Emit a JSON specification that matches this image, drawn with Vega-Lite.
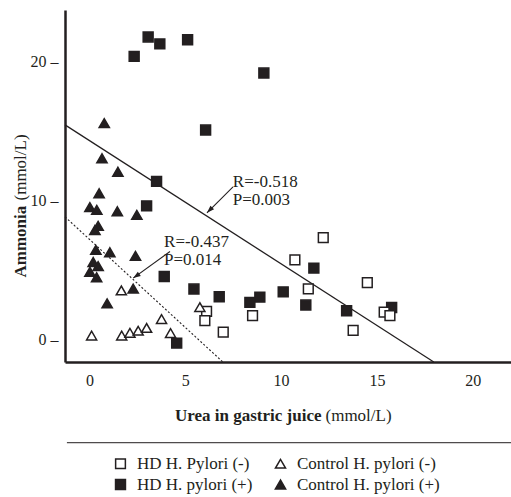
{
  "$schema": "https://vega.github.io/schema/vega-lite/v6.json",
  "width": 446,
  "height": 352,
  "autosize": {"type": "none"},
  "padding": {"left": 65, "top": 10, "right": 0, "bottom": 135},
  "background": "white",
  "config": {
    "view": {"stroke": null},
    "font": "Liberation Serif",
    "axis": {
      "grid": false,
      "ticks": false,
      "tickSize": 0,
      "domainColor": "#231f20",
      "domainWidth": 2.5,
      "labelColor": "#231f20",
      "titleColor": "#231f20",
      "labelFont": "Liberation Serif",
      "titleFont": "Liberation Serif",
      "labelFontSize": 16,
      "titleFontSize": 17
    },
    "legend": {
      "labelFont": "Liberation Serif",
      "labelFontSize": 17,
      "labelColor": "#231f20"
    }
  },
  "datasets": {
    "pts": [
      {"group": "HD H. pylori (+)", "urea": 2.33, "ammonia": 20.4},
      {"group": "HD H. pylori (+)", "urea": 3.06, "ammonia": 21.8},
      {"group": "HD H. pylori (+)", "urea": 3.67, "ammonia": 21.3},
      {"group": "HD H. pylori (+)", "urea": 5.12, "ammonia": 21.6},
      {"group": "HD H. pylori (+)", "urea": 6.06, "ammonia": 15.1},
      {"group": "HD H. pylori (+)", "urea": 9.1, "ammonia": 19.2},
      {"group": "HD H. pylori (+)", "urea": 3.5, "ammonia": 11.4},
      {"group": "HD H. pylori (+)", "urea": 2.98, "ammonia": 9.64},
      {"group": "HD H. pylori (+)", "urea": 3.9, "ammonia": 4.56},
      {"group": "HD H. pylori (+)", "urea": 5.45, "ammonia": 3.65},
      {"group": "HD H. pylori (+)", "urea": 6.77, "ammonia": 3.1},
      {"group": "HD H. pylori (+)", "urea": 4.55, "ammonia": -0.24},
      {"group": "HD H. pylori (+)", "urea": 8.37, "ammonia": 2.69},
      {"group": "HD H. pylori (+)", "urea": 8.89, "ammonia": 3.07},
      {"group": "HD H. pylori (+)", "urea": 10.11, "ammonia": 3.45},
      {"group": "HD H. pylori (+)", "urea": 11.71, "ammonia": 5.16},
      {"group": "HD H. pylori (+)", "urea": 11.29, "ammonia": 2.5},
      {"group": "HD H. pylori (+)", "urea": 13.42, "ammonia": 2.09},
      {"group": "HD H. pylori (+)", "urea": 15.77, "ammonia": 2.32},
      {"group": "HD H. Pylori (-)", "urea": 12.2, "ammonia": 7.36},
      {"group": "HD H. Pylori (-)", "urea": 10.72, "ammonia": 5.76},
      {"group": "HD H. Pylori (-)", "urea": 11.42, "ammonia": 3.67},
      {"group": "HD H. Pylori (-)", "urea": 14.5, "ammonia": 4.12},
      {"group": "HD H. Pylori (-)", "urea": 13.76, "ammonia": 0.67},
      {"group": "HD H. Pylori (-)", "urea": 15.38, "ammonia": 1.99},
      {"group": "HD H. Pylori (-)", "urea": 15.68, "ammonia": 1.73},
      {"group": "HD H. Pylori (-)", "urea": 8.51, "ammonia": 1.73},
      {"group": "HD H. Pylori (-)", "urea": 6.11, "ammonia": 2.04},
      {"group": "HD H. Pylori (-)", "urea": 6.02, "ammonia": 1.37},
      {"group": "HD H. Pylori (-)", "urea": 6.98, "ammonia": 0.55},
      {"group": "Control H. pylori (-)", "urea": 0.11, "ammonia": 0.3},
      {"group": "Control H. pylori (-)", "urea": 1.68, "ammonia": 0.3},
      {"group": "Control H. pylori (-)", "urea": 2.11, "ammonia": 0.5},
      {"group": "Control H. pylori (-)", "urea": 2.54, "ammonia": 0.65},
      {"group": "Control H. pylori (-)", "urea": 2.98, "ammonia": 0.85},
      {"group": "Control H. pylori (-)", "urea": 3.76, "ammonia": 1.49},
      {"group": "Control H. pylori (-)", "urea": 4.23, "ammonia": 0.48},
      {"group": "Control H. pylori (-)", "urea": 1.66, "ammonia": 3.55},
      {"group": "Control H. pylori (-)", "urea": 5.76, "ammonia": 2.35},
      {"group": "Control H. pylori (+)", "urea": 0.77, "ammonia": 15.6},
      {"group": "Control H. pylori (+)", "urea": 0.65, "ammonia": 13.07},
      {"group": "Control H. pylori (+)", "urea": 1.48, "ammonia": 12.1},
      {"group": "Control H. pylori (+)", "urea": 0.5, "ammonia": 10.55},
      {"group": "Control H. pylori (+)", "urea": 0.02, "ammonia": 9.55},
      {"group": "Control H. pylori (+)", "urea": 0.38, "ammonia": 9.35},
      {"group": "Control H. pylori (+)", "urea": 1.45, "ammonia": 9.25},
      {"group": "Control H. pylori (+)", "urea": 2.47, "ammonia": 8.99},
      {"group": "Control H. pylori (+)", "urea": 0.45, "ammonia": 8.2},
      {"group": "Control H. pylori (+)", "urea": 0.28, "ammonia": 7.9},
      {"group": "Control H. pylori (+)", "urea": 0.33, "ammonia": 6.47},
      {"group": "Control H. pylori (+)", "urea": 1.06, "ammonia": 6.3},
      {"group": "Control H. pylori (+)", "urea": 2.4, "ammonia": 6.04},
      {"group": "Control H. pylori (+)", "urea": 0.19, "ammonia": 5.6},
      {"group": "Control H. pylori (+)", "urea": 0.45, "ammonia": 5.3},
      {"group": "Control H. pylori (+)", "urea": 0.02, "ammonia": 4.9},
      {"group": "Control H. pylori (+)", "urea": 0.37, "ammonia": 4.5},
      {"group": "Control H. pylori (+)", "urea": 2.28, "ammonia": 3.68},
      {"group": "Control H. pylori (+)", "urea": 0.92, "ammonia": 2.62}
    ],
    "solid": [{"urea": -1.28, "ammonia": 15.47}, {"urea": 17.97, "ammonia": -1.6}],
    "dotted": [{"urea": -1.28, "ammonia": 8.85}, {"urea": 6.96, "ammonia": -1.6}],
    "arrows": [
      {"x1": 7.49, "y1": 11.0, "x2": 6.13, "y2": 9.14},
      {"x1": 4.2, "y1": 6.35, "x2": 2.28, "y2": 4.44}
    ],
    "labels": [
      {"urea": 7.48, "ammonia": 11.37, "text": "R=-0.518"},
      {"urea": 7.48, "ammonia": 10.07, "text": "P=0.003"},
      {"urea": 3.89, "ammonia": 7.05, "text": "R=-0.437"},
      {"urea": 3.89, "ammonia": 5.76, "text": "P=0.014"}
    ]
  },
  "layer": [
    {
      "data": {"name": "solid"},
      "mark": {"type": "line", "color": "#231f20", "strokeWidth": 1.2},
      "encoding": {
        "x": {"field": "urea", "type": "quantitative", "axis": null},
        "y": {"field": "ammonia", "type": "quantitative", "axis": null}
      }
    },
    {
      "data": {"name": "dotted"},
      "mark": {"type": "line", "color": "#231f20", "strokeWidth": 1.1, "strokeDash": [2, 2]},
      "encoding": {
        "x": {"field": "urea", "type": "quantitative", "axis": null},
        "y": {"field": "ammonia", "type": "quantitative", "axis": null}
      }
    },
    {
      "data": {"name": "arrows"},
      "mark": {"type": "rule", "color": "#231f20", "strokeWidth": 1.1},
      "encoding": {
        "x": {"field": "x1", "type": "quantitative", "axis": null},
        "y": {"field": "y1", "type": "quantitative", "axis": null},
        "x2": {"field": "x2"},
        "y2": {"field": "y2"}
      }
    },
    {
      "data": {"name": "arrows"},
      "transform": [{"filter": "datum.x2 > 5"}],
      "mark": {"type": "point", "shape": "M0,0L-0.7,2L0.7,2Z", "size": 56, "filled": true, "color": "#231f20", "opacity": 1, "angle": 225},
      "encoding": {
        "x": {"field": "x2", "type": "quantitative", "axis": null},
        "y": {"field": "y2", "type": "quantitative", "axis": null}
      }
    },
    {
      "data": {"name": "arrows"},
      "transform": [{"filter": "datum.x2 < 5"}],
      "mark": {"type": "point", "shape": "M0,0L-0.7,2L0.7,2Z", "size": 56, "filled": true, "color": "#231f20", "opacity": 1, "angle": 235},
      "encoding": {
        "x": {"field": "x2", "type": "quantitative", "axis": null},
        "y": {"field": "y2", "type": "quantitative", "axis": null}
      }
    },
    {
      "data": {"name": "labels"},
      "mark": {"type": "text", "align": "left", "baseline": "middle", "font": "Liberation Serif", "fontSize": 17, "color": "#231f20"},
      "encoding": {
        "x": {"field": "urea", "type": "quantitative", "axis": null},
        "y": {"field": "ammonia", "type": "quantitative", "axis": null},
        "text": {"field": "text"}
      }
    },
    {
      "data": {"name": "pts"},
      "mark": {"type": "point", "stroke": "#231f20", "strokeWidth": 1.5, "opacity": 1},
      "encoding": {
        "x": {
          "field": "urea",
          "type": "quantitative",
          "scale": {"domain": [-1.28, 22.0], "nice": false, "zero": false},
          "axis": {
            "values": [0, 5, 10, 15, 20],
            "labelPadding": 10,
            "title": "Urea in gastric juice",
            "titleFontWeight": "bold",
            "titleAlign": "right",
            "titleAnchor": null,
            "titleX": 256,
            "titleY": 53,
            "titleBaseline": "middle"
          }
        },
        "y": {
          "field": "ammonia",
          "type": "quantitative",
          "scale": {"domain": [-1.6, 23.74], "nice": false, "zero": false},
          "axis": {
            "values": [0, 10, 20],
            "labelExpr": "datum.label + ' –'",
            "labelPadding": 7,
            "title": "Ammonia",
            "titleFontWeight": "bold",
            "titleAngle": -90,
            "titleAlign": "left",
            "titleAnchor": null,
            "titleX": -40,
            "titleY": 267,
            "titleBaseline": "alphabetic"
          }
        },
        "shape": {
          "field": "group",
          "type": "nominal",
          "scale": {
            "domain": ["HD H. Pylori (-)", "HD H. pylori (+)", "Control H. pylori (-)", "Control H. pylori (+)"],
            "range": ["square", "square", "triangle-up", "triangle-up"]
          },
          "legend": {
            "orient": "none",
            "legendX": 47,
            "legendY": 445,
            "columns": 2,
            "title": null,
            "padding": 0,
            "rowPadding": 3,
            "columnPadding": 19,
            "labelOffset": 8,
            "symbolStrokeColor": "#231f20",
            "symbolStrokeWidth": 1.5
          }
        },
        "fill": {
          "field": "group",
          "type": "nominal",
          "scale": {
            "domain": ["HD H. Pylori (-)", "HD H. pylori (+)", "Control H. pylori (-)", "Control H. pylori (+)"],
            "range": ["white", "#231f20", "white", "#231f20"]
          }
        },
        "size": {
          "field": "group",
          "type": "nominal",
          "scale": {
            "domain": ["HD H. Pylori (-)", "HD H. pylori (+)", "Control H. pylori (-)", "Control H. pylori (+)"],
            "range": [95, 105, 190, 200]
          }
        }
      }
    },
    {
      "data": {"values": [{}]},
      "mark": {"type": "rule", "color": "#231f20", "strokeWidth": 1},
      "encoding": {
        "x": {
          "datum": -1.18,
          "type": "quantitative",
          "axis": {
            "orient": "top",
            "labels": false,
            "domain": false,
            "ticks": false,
            "title": "(mmol/L)",
            "titleFontWeight": "normal",
            "titleAlign": "left",
            "titleAnchor": null,
            "titleX": 260,
            "titleY": 405,
            "titleBaseline": "middle"
          }
        },
        "x2": {"datum": 22.0},
        "y": {
          "datum": -7.41,
          "type": "quantitative",
          "axis": {
            "orient": "right",
            "labels": false,
            "domain": false,
            "ticks": false,
            "title": "(mmol/L)",
            "titleFontWeight": "normal",
            "titleAngle": -90,
            "titleAlign": "left",
            "titleAnchor": null,
            "titleX": -486,
            "titleY": 190,
            "titleBaseline": "alphabetic"
          }
        }
      }
    }
  ],
  "resolve": {"axis": {"x": "independent", "y": "independent"}}
}
